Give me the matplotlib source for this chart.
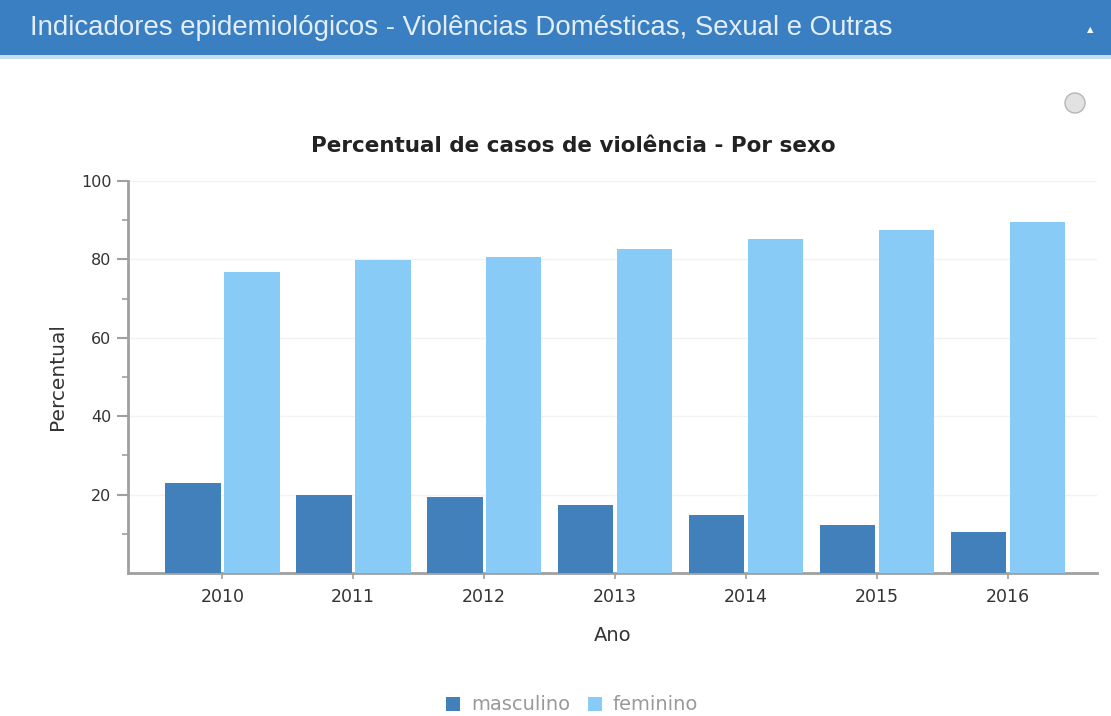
import matplotlib.pyplot as plt
import numpy as np
from matplotlib.patches import Ellipse, Rectangle

YEARS = ["2010", "2011", "2012", "2013", "2014", "2015", "2016"]
MASCULINO = [23.0, 19.9, 19.4, 17.3, 14.8, 12.2, 10.5]
FEMININO = [76.8, 79.8, 80.6, 82.7, 85.2, 87.5, 89.5]

HEADER = "Indicadores epidemiológicos - Violências Domésticas, Sexual e Outras"
TITLE = "Percentual de casos de violência - Por sexo"

C_MASC = "#4180bb"
C_FEM = "#88cbf6"
C_HEADER = "#3a7fc1"


def main():
    plt.rcParams["font.family"] = ["DejaVu Sans"]
    W, H = 1111, 716
    fig = plt.figure(figsize=(W / 100, H / 100), dpi=100)
    fig.patch.set_facecolor("white")

    # panel header
    fig.patches.append(Rectangle((0, 1 - 55 / H), 1, 55 / H, transform=fig.transFigure,
                                 facecolor=C_HEADER, edgecolor="none"))
    fig.patches.append(Rectangle((0, 1 - 59 / H), 1, 4 / H, transform=fig.transFigure,
                                 facecolor="#c9ddf0", edgecolor="none"))
    fig.text(30 / W, 1 - 28 / H, HEADER, color="#e3eef9", fontsize=19.9,
             va="center", ha="left", family=["Liberation Sans"])
    fig.text(1090 / W, 1 - 30 / H, "▲", color="white", fontsize=6, va="center", ha="center")

    # export button
    fig.patches.append(Ellipse((1075 / W, 1 - 103 / H), 20 / W, 20 / H, transform=fig.transFigure,
                               facecolor="#e2e2e2", edgecolor="#b5b5b5", linewidth=1))

    left, right, top, bottom = 128, 1097, 181, 573
    ax = fig.add_axes([left / W, 1 - bottom / H, (right - left) / W, (bottom - top) / H])

    x = np.arange(len(YEARS))
    w = 0.425
    ax.bar(x - 0.225, MASCULINO, width=w, color=C_MASC, label="masculino", zorder=3)
    ax.bar(x + 0.225, FEMININO, width=w, color=C_FEM, label="feminino", zorder=3)

    ax.set_xlim(-0.72, 6.68)
    ax.set_ylim(0, 100)
    ax.set_xticks(x)
    ax.set_xticklabels(YEARS)
    ax.set_yticks([20, 40, 60, 80, 100])
    ax.set_yticks([10, 30, 50, 70, 90], minor=True)
    ax.grid(axis="y", color="#f2f2f2", linewidth=1, zorder=0)

    for s in ["top", "right"]:
        ax.spines[s].set_visible(False)
    for s in ["left", "bottom"]:
        ax.spines[s].set_color("#a0a0a0")
        ax.spines[s].set_linewidth(2)

    ax.tick_params(axis="y", which="major", length=8, width=1.5, color="#a0a0a0",
                   labelsize=11.5, labelcolor="#333333", pad=4)
    ax.tick_params(axis="y", which="minor", length=4, width=1.2, color="#a0a0a0")
    ax.tick_params(axis="x", length=4, width=1.2, color="#a0a0a0", labelsize=12.5,
                   labelcolor="#333333", pad=7)

    ax.set_xlabel("Ano", fontsize=14, color="#333333", labelpad=14)
    ax.set_ylabel("Percentual", fontsize=14.5, color="#333333", labelpad=10)
    fig.text(573 / W, 1 - 146 / H, TITLE, fontsize=15.5, fontweight="bold", color="#222222",
             ha="center", va="center")

    fig.legend(loc="center", bbox_to_anchor=(572 / W, 1 - 705 / H), ncol=2, frameon=False,
               fontsize=14, labelcolor="#999999", handlelength=0.75, handleheight=0.75,
               columnspacing=0.9, handletextpad=0.55)

    fig.savefig("out.png", dpi=100)


if __name__ == "__main__":
    main()
